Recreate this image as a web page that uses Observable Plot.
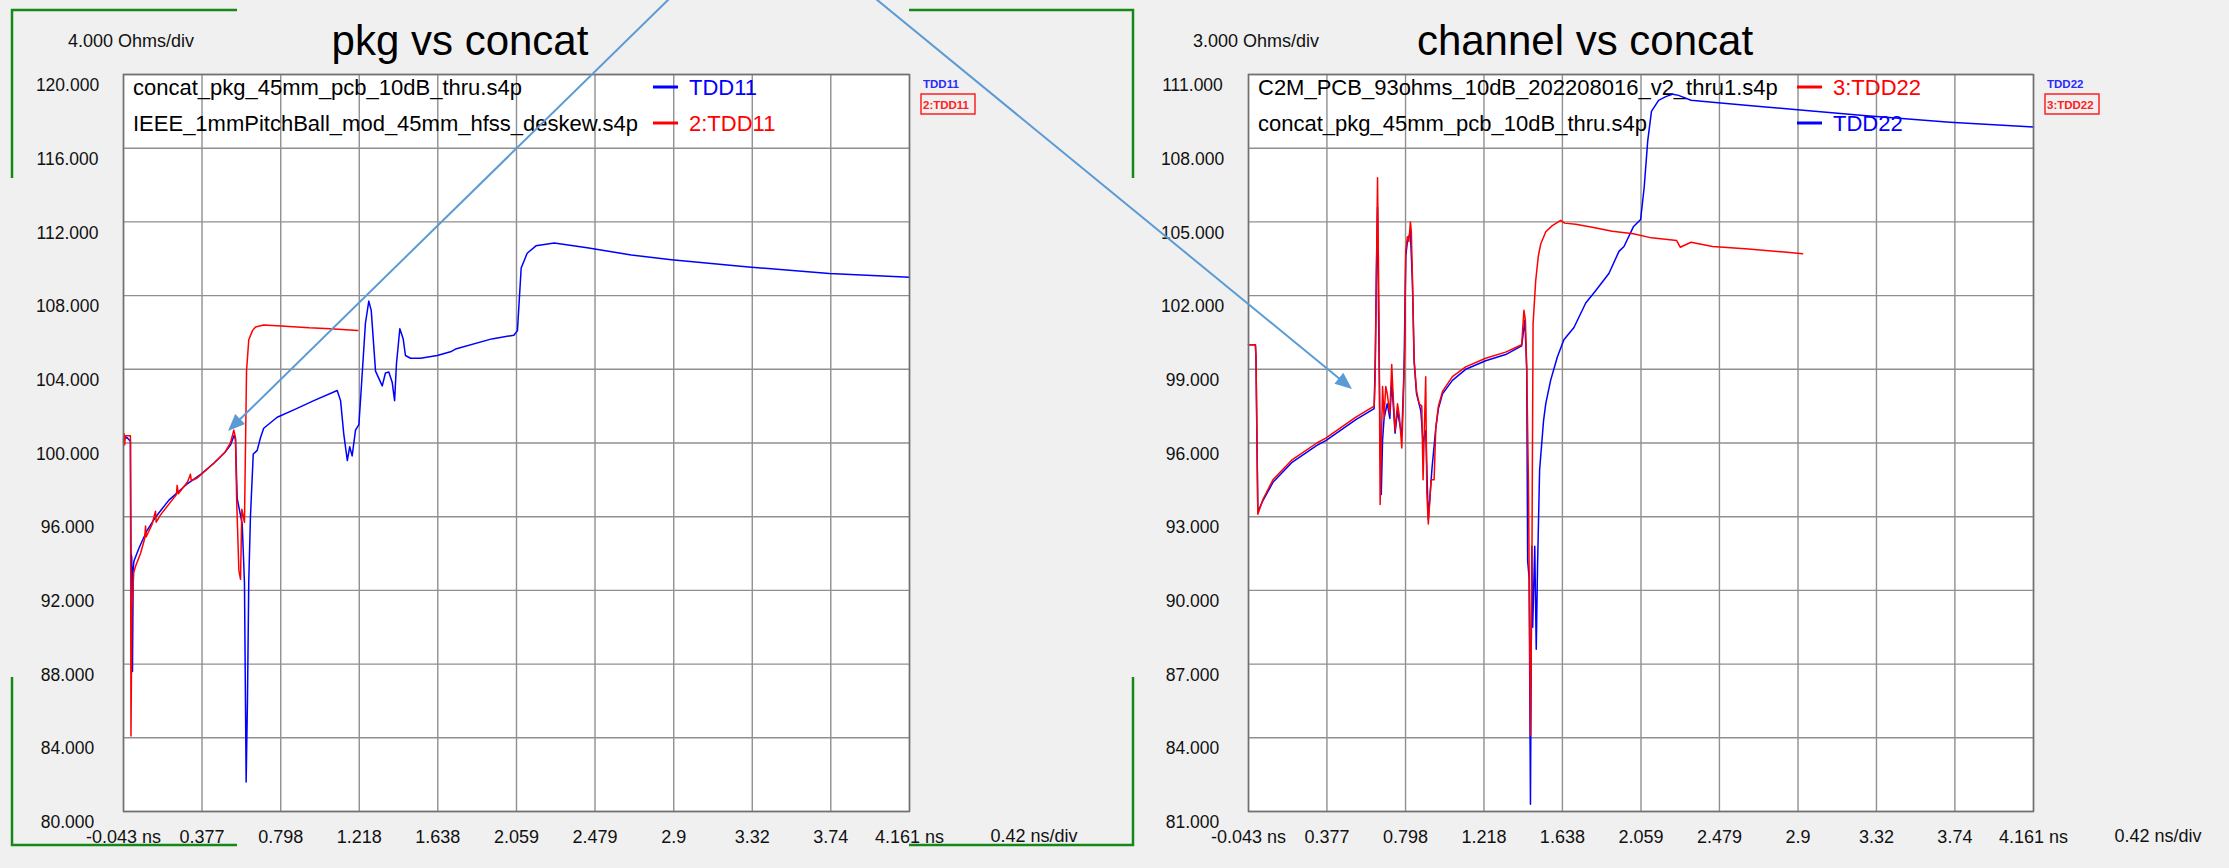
<!DOCTYPE html>
<html><head><meta charset="utf-8">
<script src="https://cdn.jsdelivr.net/npm/d3@7"></script>
<script src="https://cdn.jsdelivr.net/npm/@observablehq/plot@0.6"></script>
<style>
html,body{margin:0;padding:0;background:#f0f0f0;}
#root{position:relative;width:2229px;height:868px;overflow:hidden;background:#f0f0f0;}
#root svg{position:absolute;top:0;}
</style></head><body><div id="root"></div>
<script>
// ---------- tick values / labels ----------
const xTickValues = [-0.043, 0.377, 0.798, 1.218, 1.638, 2.059, 2.479, 2.9, 3.32, 3.74, 4.161];
const xTickLabels = ["-0.043 ns", "0.377", "0.798", "1.218", "1.638", "2.059", "2.479", "2.9", "3.32", "3.74", "4.161 ns"];
const pkgYTicks = [80, 84, 88, 92, 96, 100, 104, 108, 112, 116, 120];
const pkgYLabels = ["80.000", "84.000", "88.000", "92.000", "96.000", "100.000", "104.000", "108.000", "112.000", "116.000", "120.000"];
const chanYTicks = [81, 84, 87, 90, 93, 96, 99, 102, 105, 108, 111];
const chanYLabels = ["81.000", "84.000", "87.000", "90.000", "93.000", "96.000", "99.000", "102.000", "105.000", "108.000", "111.000"];

// ---------- file names / trace tags ----------
const pkgFiles = ["concat_pkg_45mm_pcb_10dB_thru.s4p", "IEEE_1mmPitchBall_mod_45mm_hfss_deskew.s4p"];
const pkgTags = ["TDD11", "2:TDD11"];
const chanFiles = ["C2M_PCB_93ohms_10dB_202208016_v2_thru1.s4p", "concat_pkg_45mm_pcb_10dB_thru.s4p"];
const chanTags = ["3:TDD22", "TDD22"];

// ---------- series: [time ns, impedance Ohm] ----------
const pkgConcatTDD11 = [[-0.043,100.2],[-0.025,100.3],[-0.016,100.2],[-0.006,100.1],[-0.003,94.0],[0.001,93.8],[0.005,87.6],[0.009,93.2],[0.013,93.6],[0.040,94.3],[0.080,95.2],[0.130,96.0],[0.200,96.9],[0.300,97.8],[0.370,98.3],[0.440,98.9],[0.500,99.5],[0.530,99.9],[0.548,100.4],[0.556,100.2],[0.565,97.0],[0.592,95.6],[0.604,92.4],[0.613,81.6],[0.620,86.0],[0.627,92.5],[0.636,96.0],[0.651,99.4],[0.672,99.6],[0.690,100.3],[0.707,100.8],[0.779,101.4],[0.868,101.8],[0.975,102.3],[1.100,102.85],[1.118,102.3],[1.135,100.5],[1.154,99.05],[1.167,99.8],[1.180,99.3],[1.198,100.7],[1.216,101.0],[1.228,102.85],[1.251,106.5],[1.269,107.7],[1.282,107.2],[1.305,103.9],[1.341,103.1],[1.358,103.8],[1.376,103.85],[1.394,103.3],[1.407,102.3],[1.417,104.3],[1.435,106.2],[1.453,105.65],[1.465,104.75],[1.492,104.6],[1.546,104.6],[1.635,104.75],[1.706,104.95],[1.733,105.1],[1.927,105.65],[2.045,105.85],[2.064,106.1],[2.084,109.5],[2.116,110.3],[2.163,110.7],[2.261,110.85],[2.437,110.6],[2.673,110.2],[2.888,109.95],[3.300,109.55],[3.732,109.2],[4.161,109.0]];
const pkgIeeeTDD11 = [[-0.043,100.0],[-0.040,100.5],[-0.037,99.9],[-0.033,100.4],[-0.006,100.4],[-0.003,84.1],[0.002,91.0],[0.012,93.0],[0.021,93.3],[0.048,94.0],[0.070,94.8],[0.075,95.5],[0.078,94.9],[0.110,95.6],[0.128,96.3],[0.132,95.7],[0.155,96.1],[0.240,97.2],[0.244,97.7],[0.250,97.25],[0.300,97.9],[0.315,98.3],[0.320,97.95],[0.351,98.1],[0.440,98.9],[0.500,99.5],[0.529,100.0],[0.547,100.7],[0.556,100.3],[0.562,97.0],[0.574,93.1],[0.583,92.6],[0.590,96.4],[0.604,95.7],[0.615,103.9],[0.627,105.6],[0.647,106.1],[0.663,106.3],[0.707,106.4],[0.800,106.35],[0.950,106.25],[1.064,106.2],[1.210,106.1]];
const chanC2mTDD22 = [[-0.043,100.0],[-0.006,100.0],[-0.003,99.5],[0.007,93.1],[0.034,93.7],[0.088,94.5],[0.188,95.3],[0.323,96.0],[0.371,96.2],[0.532,97.05],[0.630,97.5],[0.635,98.6],[0.639,100.85],[0.648,106.8],[0.656,101.1],[0.662,93.5],[0.675,98.3],[0.683,97.05],[0.692,98.3],[0.700,98.0],[0.714,97.2],[0.724,99.2],[0.730,98.2],[0.742,96.5],[0.755,97.6],[0.765,97.1],[0.778,95.8],[0.785,97.5],[0.794,99.9],[0.799,103.8],[0.808,104.4],[0.816,104.2],[0.824,105.0],[0.829,104.6],[0.835,102.7],[0.844,99.4],[0.857,98.1],[0.871,97.6],[0.885,97.5],[0.892,94.5],[0.906,98.7],[0.912,94.0],[0.920,92.7],[0.935,94.5],[0.951,94.5],[0.960,96.6],[0.974,97.5],[0.996,98.1],[1.049,98.7],[1.120,99.1],[1.227,99.45],[1.334,99.7],[1.420,100.0],[1.432,101.4],[1.440,101.0],[1.447,99.0],[1.456,94.5],[1.467,84.1],[1.474,90.0],[1.481,100.85],[1.495,102.6],[1.509,103.6],[1.522,104.1],[1.549,104.6],[1.584,104.85],[1.629,105.06],[1.650,104.95],[1.709,104.9],[1.798,104.78],[1.905,104.62],[2.018,104.52],[2.115,104.35],[2.250,104.24],[2.269,103.97],[2.327,104.17],[2.442,104.0],[2.635,103.9],[2.827,103.77],[2.924,103.7]];
const chanConcatTDD22 = [[-0.043,100.0],[-0.006,100.0],[-0.003,99.5],[0.007,93.2],[0.034,93.65],[0.088,94.4],[0.188,95.2],[0.323,95.9],[0.371,96.1],[0.532,96.95],[0.630,97.4],[0.636,99.5],[0.642,103.0],[0.648,105.6],[0.653,101.5],[0.662,96.0],[0.668,93.9],[0.675,96.1],[0.683,97.0],[0.700,97.6],[0.714,97.0],[0.724,98.5],[0.742,96.4],[0.755,97.3],[0.778,96.3],[0.790,99.0],[0.799,103.6],[0.808,104.2],[0.824,104.6],[0.835,102.5],[0.844,99.3],[0.857,98.0],[0.880,97.3],[0.892,96.0],[0.906,96.5],[0.920,92.9],[0.940,95.0],[0.960,96.6],[0.974,97.4],[0.996,98.0],[1.049,98.55],[1.120,99.0],[1.227,99.35],[1.334,99.6],[1.420,99.95],[1.437,101.0],[1.447,99.0],[1.452,91.2],[1.460,90.5],[1.467,81.3],[1.474,91.8],[1.479,88.5],[1.490,91.8],[1.498,87.6],[1.505,91.0],[1.516,94.9],[1.537,96.9],[1.549,97.6],[1.575,98.55],[1.611,99.5],[1.646,100.2],[1.700,100.7],[1.763,101.7],[1.816,102.2],[1.887,102.9],[1.941,103.8],[1.968,104.0],[2.018,104.8],[2.057,105.1],[2.076,106.4],[2.095,108.3],[2.115,109.5],[2.153,109.95],[2.192,110.1],[2.230,110.2],[2.260,110.15],[2.327,109.95],[2.442,109.87],[2.635,109.74],[2.943,109.53],[3.251,109.33],[3.713,109.06],[4.161,108.86]];

// ---------- styling / layout ----------
const FONT = '"Liberation Sans", Arial, Helvetica, sans-serif';
const BLUE = "#0000ff", RED = "#ff0000", GRID = "#8f8f8f", INK = "#111111";
const TOP = 74, BOTTOM = 811, H = 868;
const xLabelMap = new Map(xTickValues.map((v, i) => [v, xTickLabels[i]]));

const panels = [
  {left: 0, width: 1115, mL: 123, mR: 206, yDomain: [80, 120], yTicks: pkgYTicks, yLabels: pkgYLabels,
   blue: pkgConcatTDD11, red: pkgIeeeTDD11, title: "pkg vs concat", perDiv: "4.000 Ohms/div",
   rows: [{name: pkgFiles[0], tag: pkgTags[0], color: BLUE}, {name: pkgFiles[1], tag: pkgTags[1], color: RED}],
   swatchDx: 530, small: [pkgTags[0], pkgTags[1]]},
  {left: 1115, width: 1114, mL: 133, mR: 196, yDomain: [81, 111], yTicks: chanYTicks, yLabels: chanYLabels,
   blue: chanConcatTDD22, red: chanC2mTDD22, title: "channel vs concat", perDiv: "3.000 Ohms/div",
   rows: [{name: chanFiles[0], tag: chanTags[0], color: RED}, {name: chanFiles[1], tag: chanTags[1], color: BLUE}],
   swatchDx: 549, small: [chanTags[1], chanTags[0]]}
];

const root = document.getElementById("root");

for (const p of panels) {
  const yLabelMap = new Map(p.yTicks.map((v, i) => [v, p.yLabels[i]]));
  const chart = Plot.plot({
    width: p.width, height: H,
    marginTop: TOP, marginBottom: H - BOTTOM, marginLeft: p.mL, marginRight: p.mR,
    style: {background: "transparent", fontFamily: FONT, overflow: "visible"},
    x: {domain: [-0.043, 4.161]},
    y: {domain: p.yDomain},
    marks: [
      Plot.frame({fill: "#ffffff", stroke: null}),
      Plot.gridX(xTickValues, {stroke: GRID, strokeOpacity: 1, strokeWidth: 1.4}),
      Plot.gridY(p.yTicks, {stroke: GRID, strokeOpacity: 1, strokeWidth: 1.4}),
      Plot.axisX(xTickValues, {tickSize: 0, tickPadding: 19, fontSize: 18, fill: INK, label: null,
        tickFormat: d => xLabelMap.get(d)}),
      Plot.axisY(p.yTicks, {tickSize: 0, tickPadding: 56, textAnchor: "middle", dy: 11, fontSize: 17.5, fill: INK, label: null,
        tickFormat: d => yLabelMap.get(d)}),
      Plot.line(p.blue, {x: d => d[0], y: d => d[1], stroke: BLUE, strokeWidth: 1.5}),
      Plot.line(p.red, {x: d => d[0], y: d => d[1], stroke: RED, strokeWidth: 1.5}),
      Plot.frame({stroke: "#707070", strokeWidth: 1.5})
    ]
  });
  chart.style.left = p.left + "px";
  root.appendChild(chart);

  const svg = d3.select(chart);
  const pr = p.width - p.mR;
  // legend inside plot, beneath traces
  const lg = svg.insert("g", "[aria-label=line]").attr("font-family", FONT).attr("text-anchor", "start");
  p.rows.forEach((r, i) => {
    const base = i === 0 ? 95 : 131;
    lg.append("text").attr("x", p.mL + 10).attr("y", base).attr("font-size", 22).attr("fill", "#000").text(r.name);
    lg.append("line").attr("x1", p.mL + p.swatchDx).attr("x2", p.mL + p.swatchDx + 25)
      .attr("y1", base - 8).attr("y2", base - 8).attr("stroke", r.color).attr("stroke-width", 3);
    lg.append("text").attr("x", p.mL + p.swatchDx + 36).attr("y", base).attr("font-size", 22).attr("fill", r.color).text(r.tag);
  });
  // annotations outside plot
  const ag = svg.append("g").attr("font-family", FONT);
  ag.append("text").attr("x", p.mL + 337).attr("y", 55).attr("text-anchor", "middle").attr("font-size", 42).attr("fill", "#000").text(p.title);
  ag.append("text").attr("x", p.mL + 8).attr("y", 47).attr("text-anchor", "middle").attr("font-size", 18).attr("fill", INK).text(p.perDiv);
  ag.append("text").attr("x", pr + 125).attr("y", 842).attr("text-anchor", "middle").attr("font-size", 18).attr("fill", INK).text("0.42 ns/div");
  ag.append("text").attr("x", pr + 14).attr("y", 88).attr("text-anchor", "start").attr("font-size", 11.5).attr("font-weight", "bold").attr("fill", "#2a2aff").text(p.small[0]);
  ag.append("rect").attr("x", pr + 12).attr("y", 94).attr("width", 54).attr("height", 20).attr("fill", "none").attr("stroke", "#ff2020").attr("stroke-width", 1.5);
  ag.append("text").attr("x", pr + 14).attr("y", 109).attr("text-anchor", "start").attr("font-size", 11.5).attr("font-weight", "bold").attr("fill", "#ff2020").text(p.small[1]);
}

// ---------- overlay: green brackets and callout arrows ----------
const ov = d3.select(root).append("svg").attr("width", 2229).attr("height", 868).style("left", "0px").style("pointer-events", "none");
const GREEN = "#14891a";
const brackets = [
  [[12, 178], [12, 10], [237, 10]],
  [[909, 10], [1133, 10], [1133, 178]],
  [[12, 677], [12, 845], [237, 845]],
  [[909, 845], [1133, 845], [1133, 677]]
];
for (const b of brackets) {
  ov.append("polyline").attr("points", b.map(q => q.join(",")).join(" "))
    .attr("fill", "none").attr("stroke", GREEN).attr("stroke-width", 2.5);
}
const ARROW = "#5b9bd5";
const arrows = [[[669, -1], [228, 431]], [[876, -1], [1352, 389]]];
for (const [[x0, y0], [x1, y1]] of arrows) {
  const L = Math.hypot(x1 - x0, y1 - y0), ux = (x1 - x0) / L, uy = (y1 - y0) / L;
  const len = 17, hw = 7;
  const bx = x1 - ux * len, by = y1 - uy * len;
  ov.append("line").attr("x1", x0).attr("y1", y0).attr("x2", bx + ux * 2).attr("y2", by + uy * 2)
    .attr("stroke", ARROW).attr("stroke-width", 2);
  ov.append("polygon").attr("points", [[x1, y1], [bx - uy * hw, by + ux * hw], [bx + uy * hw, by - ux * hw]].map(q => q.join(",")).join(" "))
    .attr("fill", ARROW);
}
</script></body></html>
